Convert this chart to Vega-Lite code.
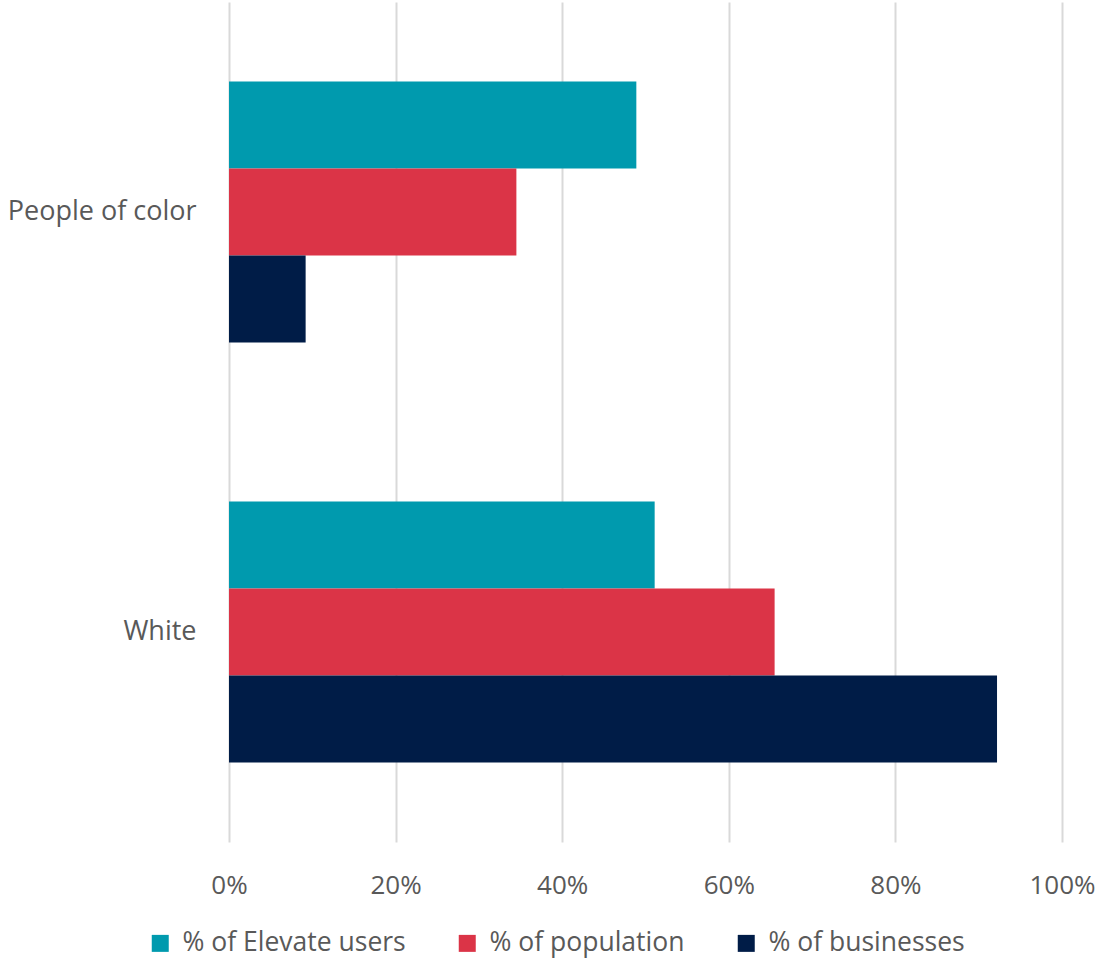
{
  "$schema": "https://vega.github.io/schema/vega-lite/v6.json",
  "width": 833,
  "height": 840,
  "autosize": {"type": "none"},
  "padding": {"left": 229, "top": 2, "right": 37, "bottom": 119},
  "background": "white",
  "data": {
    "values": [
      {"group": "People of color", "series": "% of Elevate users", "value": 0.489},
      {"group": "People of color", "series": "% of population", "value": 0.345},
      {"group": "People of color", "series": "% of businesses", "value": 0.092},
      {"group": "White", "series": "% of Elevate users", "value": 0.511},
      {"group": "White", "series": "% of population", "value": 0.655},
      {"group": "White", "series": "% of businesses", "value": 0.922}
    ]
  },
  "mark": {"type": "bar"},
  "encoding": {
    "y": {
      "field": "group",
      "type": "nominal",
      "sort": ["People of color", "White"],
      "scale": {"paddingInner": 0.379, "paddingOuter": 0.1895},
      "axis": {
        "title": null,
        "domain": false,
        "ticks": false,
        "labelPadding": 33,
        "labelFontSize": 27,
        "labelColor": "#595959",
        "labelFont": "Open Sans",
        "labelLimit": 0,
        "grid": false
      }
    },
    "yOffset": {
      "field": "series",
      "type": "nominal",
      "sort": ["% of Elevate users", "% of population", "% of businesses"],
      "scale": {"paddingInner": 0, "paddingOuter": 0}
    },
    "x": {
      "field": "value",
      "type": "quantitative",
      "scale": {"domain": [0, 1], "nice": false},
      "axis": {
        "title": null,
        "format": ".0%",
        "values": [0, 0.2, 0.4, 0.6, 0.8, 1],
        "domain": false,
        "ticks": false,
        "grid": true,
        "gridColor": "#D9D9D9",
        "gridWidth": 2,
        "labelPadding": 30,
        "labelFontSize": 26,
        "labelColor": "#595959",
        "labelFont": "Open Sans",
        "labelFlush": false
      }
    },
    "color": {
      "field": "series",
      "type": "nominal",
      "sort": ["% of Elevate users", "% of population", "% of businesses"],
      "scale": {
        "domain": ["% of Elevate users", "% of population", "% of businesses"],
        "range": ["#009AAE", "#DB3447", "#001C47"]
      },
      "legend": {
        "title": null,
        "orient": "none",
        "direction": "horizontal",
        "legendX": -82,
        "legendY": 928,
        "symbolType": "square",
        "symbolSize": 289,
        "symbolStrokeWidth": 0,
        "labelFontSize": 26.5,
        "labelColor": "#595959",
        "labelFont": "Open Sans",
        "labelLimit": 0,
        "labelOffset": 9,
        "columnPadding": 48
      }
    }
  },
  "config": {"view": {"stroke": null}}
}
